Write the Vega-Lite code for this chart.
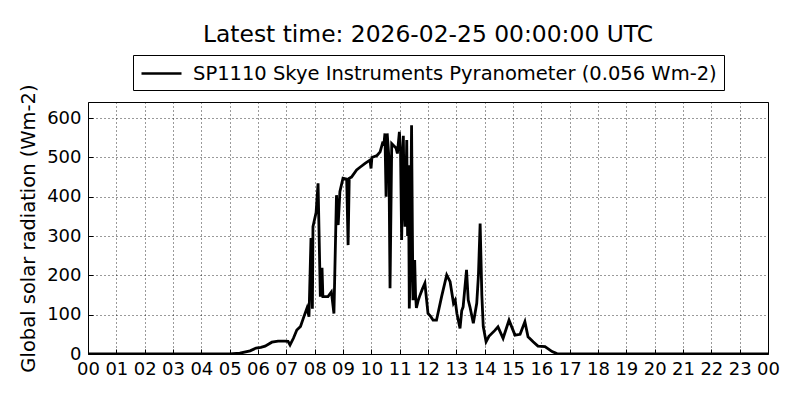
{
  "$schema": "https://vega.github.io/schema/vega-lite/v6.json",
  "width": 680,
  "height": 252,
  "autosize": {"type": "none"},
  "padding": {"left": 88, "top": 102, "right": 32, "bottom": 46},
  "background": "white",
  "title": {"text": "Latest time: 2026-02-25 00:00:00 UTC", "fontSize": 23.4, "font": "DejaVu Sans", "fontWeight": "normal", "color": "black", "anchor": "middle", "frame": "group", "offset": 7},
  "config": {
    "view": {"stroke": "black", "strokeWidth": 1},
    "axis": {"domain": false, "grid": true, "gridColor": "black", "gridDash": [1, 3], "gridWidth": 0.8, "gridOpacity": 1, "labelFont": "DejaVu Sans", "labelFontSize": 18, "labelColor": "black", "titleFont": "DejaVu Sans", "titleFontSize": 19.5, "titleFontWeight": "normal", "titleColor": "black", "ticks": true, "tickSize": -5, "tickColor": "black", "tickWidth": 1}
  },
  "data": {"values": [
    {"h":0,"v":0},{"h":5.0,"v":0},{"h":5.36,"v":2},{"h":5.72,"v":8},{"h":5.93,"v":15},{"h":6.1,"v":17},{"h":6.25,"v":20},{"h":6.49,"v":30},{"h":6.71,"v":33},{"h":6.95,"v":33},{"h":7.06,"v":32},{"h":7.13,"v":23},{"h":7.25,"v":40},{"h":7.37,"v":61},{"h":7.5,"v":70},{"h":7.62,"v":95},{"h":7.73,"v":117},{"h":7.8,"v":95},{"h":7.87,"v":295},{"h":7.92,"v":115},{"h":7.94,"v":324},{"h":8.05,"v":360},{"h":8.12,"v":434},{"h":8.2,"v":146},{"h":8.26,"v":219},{"h":8.29,"v":146},{"h":8.47,"v":146},{"h":8.59,"v":158},{"h":8.68,"v":103},{"h":8.77,"v":404},{"h":8.83,"v":328},{"h":8.89,"v":413},{"h":9.0,"v":447},{"h":9.13,"v":445},{"h":9.18,"v":277},{"h":9.22,"v":447},{"h":9.3,"v":450},{"h":9.48,"v":468},{"h":9.6,"v":475},{"h":9.78,"v":485},{"h":9.95,"v":493},{"h":9.99,"v":472},{"h":10.02,"v":500},{"h":10.2,"v":505},{"h":10.31,"v":514},{"h":10.41,"v":540},{"h":10.44,"v":530},{"h":10.48,"v":561},{"h":10.52,"v":400},{"h":10.56,"v":561},{"h":10.62,"v":500},{"h":10.66,"v":167},{"h":10.72,"v":535},{"h":10.87,"v":524},{"h":10.92,"v":510},{"h":10.99,"v":565},{"h":11.03,"v":520},{"h":11.07,"v":290},{"h":11.1,"v":420},{"h":11.13,"v":555},{"h":11.16,"v":380},{"h":11.19,"v":324},{"h":11.25,"v":544},{"h":11.28,"v":300},{"h":11.31,"v":480},{"h":11.34,"v":116},{"h":11.37,"v":200},{"h":11.42,"v":582},{"h":11.45,"v":300},{"h":11.47,"v":137},{"h":11.5,"v":190},{"h":11.53,"v":239},{"h":11.56,"v":150},{"h":11.59,"v":117},{"h":11.65,"v":135},{"h":11.7,"v":146},{"h":11.8,"v":165},{"h":11.89,"v":180},{"h":12.0,"v":103},{"h":12.1,"v":95},{"h":12.18,"v":86},{"h":12.3,"v":86},{"h":12.48,"v":146},{"h":12.66,"v":201},{"h":12.78,"v":184},{"h":12.9,"v":129},{"h":12.96,"v":137},{"h":13.02,"v":103},{"h":13.13,"v":65},{"h":13.19,"v":110},{"h":13.24,"v":120},{"h":13.36,"v":214},{"h":13.42,"v":137},{"h":13.48,"v":120},{"h":13.6,"v":78},{"h":13.72,"v":129},{"h":13.78,"v":200},{"h":13.84,"v":332},{"h":13.9,"v":150},{"h":13.95,"v":70},{"h":14.05,"v":31},{"h":14.15,"v":45},{"h":14.36,"v":60},{"h":14.47,"v":69},{"h":14.65,"v":40},{"h":14.86,"v":86},{"h":15.07,"v":48},{"h":15.25,"v":50},{"h":15.42,"v":82},{"h":15.53,"v":44},{"h":15.71,"v":31},{"h":15.88,"v":20},{"h":16.13,"v":19},{"h":16.38,"v":6},{"h":16.55,"v":1},{"h":16.76,"v":0},{"h":24,"v":0}
  ]},
  "mark": {"type": "line", "strokeWidth": 2.8, "clip": true},
  "encoding": {
    "x": {"field": "h", "type": "quantitative", "scale": {"domain": [0, 24], "nice": false, "zero": false}, "axis": {"title": null, "values": [0,1,2,3,4,5,6,7,8,9,10,11,12,13,14,15,16,17,18,19,20,21,22,23,24], "labelExpr": "datum.value == 24 ? '00' : (datum.value < 10 ? '0' + datum.value : '' + datum.value)", "labelPadding": 11, "labelFlush": false, "labelOverlap": false}},
    "y": {"field": "v", "type": "quantitative", "scale": {"domain": [0, 641], "nice": false}, "axis": {"title": "Global solar radiation (Wm-2)", "values": [0,100,200,300,400,500,600], "labelPadding": 12, "titlePadding": 8}},
    "color": {"datum": "SP1110 Skye Instruments Pyranometer (0.056 Wm-2)", "type": "nominal", "scale": {"range": ["black"]}, "legend": {"title": null, "orient": "none", "legendX": 45, "legendY": -47, "symbolType": "M-2,0H2", "symbolSize": 400, "symbolStrokeWidth": 2.5, "symbolOffset": 10, "labelFont": "DejaVu Sans", "labelFontSize": 19.5, "labelColor": "black", "labelOffset": 20, "labelLimit": 700, "padding": 7, "strokeColor": "black", "fillColor": "white"}}
  }
}
